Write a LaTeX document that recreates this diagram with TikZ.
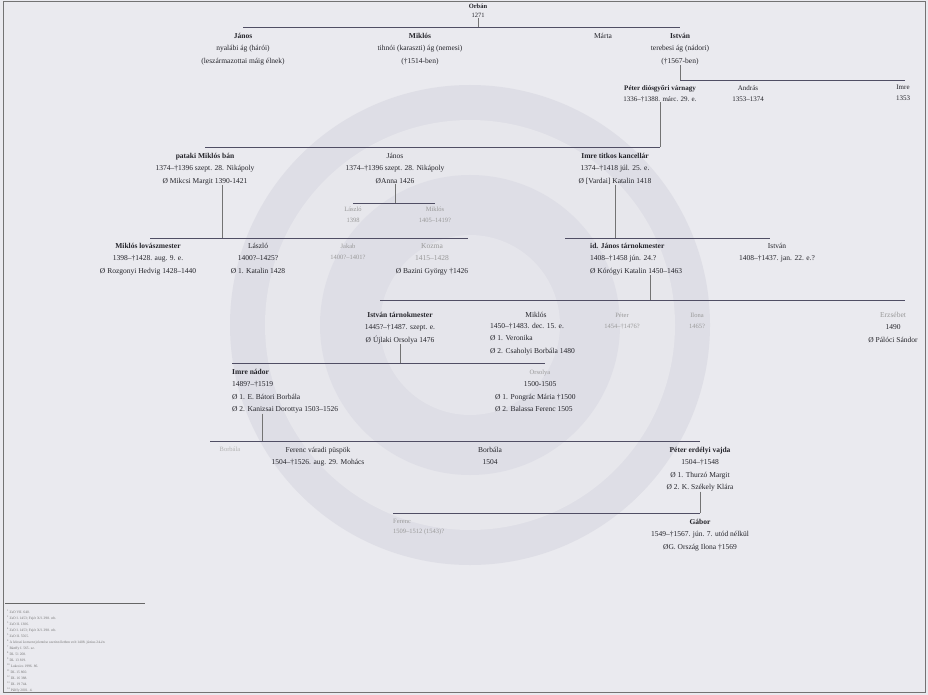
\documentclass[tikz,border=0pt]{standalone}
\usepackage{fontspec}
\setmainfont{Liberation Serif}
\definecolor{paper}{RGB}{234,234,239}
\definecolor{seal}{RGB}{222,222,230}
\definecolor{ink}{RGB}{36,36,42}
\definecolor{rule}{RGB}{80,78,100}
\tikzset{
  person/.style={anchor=north, inner sep=0pt, align=center, text=ink,
    font=\fontsize{7.5}{12.5}\selectfont},
  lperson/.style={person, anchor=north west, align=left},
  faint/.style={text=black!40, font=\fontsize{6.5}{10.5}\selectfont},
  bar/.style={draw=rule, line width=0.9pt},
  tick/.style={draw=black!55, line width=0.6pt}
}
\begin{document}
\begin{tikzpicture}[x=1pt,y=-1pt]
	\useasboundingbox (0,0) rectangle (928,695);
	\fill[paper] (0,0) rectangle (928,695);
	% seal in the background
	\fill[seal] (470,325) circle (240);
	\fill[paper!70!seal] (470,325) circle (205);
	\fill[seal] (470,325) circle (150);
	\fill[paper!60!seal] (470,325) circle (90);
	\draw[black!55, line width=1pt] (3,2) rectangle (925,692);

	% generation 0 and 1
	\node[person, font=\fontsize{6.5}{9}\selectfont] (orban) at (478,4) {\textbf{Orbán}\\1271};
	\node[person] (janos1) at (243,33) {\textbf{János}\\nyalábi ág (hárói)\\(leszármazottai máig élnek)};
	\node[person] (miklos1) at (420,33) {\textbf{Miklós}\\tihnói (karaszti) ág (nemesi)\\(†1514-ben)};
	\node[person] (marta1) at (603,33) {Márta};
	\node[person] (istvan1) at (680,33) {\textbf{István}\\terebesi ág (nádori)\\(†1567-ben)};
	\coordinate (b0l) at (243,27);
	\coordinate (b0r) at (680,27);
	\draw[tick] (orban.south) -- (orban.south |- b0l);
	\draw[bar] (b0l) -- (b0r);

	% generation 2
	\node[person, font=\fontsize{7}{11}\selectfont] (peter2) at (660,85) {\textbf{Péter diósgyőri várnagy}\\1336–†1388. márc. 29. e.};
	\node[person, font=\fontsize{7}{11}\selectfont] (andras2) at (748,85) {András\\1353–1374};
	\node[person, font=\fontsize{7}{11}\selectfont] (imre2) at (903,85) {Imre\\1353};
	\coordinate (b1l) at (680,80);
	\coordinate (b1r) at (905,80);
	\draw[tick] (istvan1.south) -- (b1l);
	\draw[bar] (b1l) -- (b1r);

	% generation 3
	\node[person] (miklosban) at (205,153) {\textbf{pataki Miklós bán}\\1374–†1396 szept. 28. Nikápoly\\Ø Mikcsi Margit 1390-1421};
	\node[person] (janos3) at (395,153) {János\\1374–†1396 szept. 28. Nikápoly\\ØAnna 1426};
	\node[person] (imre3) at (615,153) {\textbf{Imre titkos kancellár}\\1374–†1418 júl. 25. e.\\Ø [Vardai] Katalin 1418};
	\coordinate (b2l) at (205,147);
	\coordinate (b2r) at (660,147);
	\draw[tick] (peter2.south) -- (b2r);
	\draw[bar] (b2l) -- (b2r);

	\node[person, faint] (laszlo3) at (353,207) {László\\1398};
	\node[person, faint] (miklos3) at (435,207) {Miklós\\1405–1419?};
	\coordinate (b3l) at (353,203);
	\coordinate (b3r) at (435,203);
	\draw[tick] (janos3.south) -- (janos3.south |- b3l);
	\draw[bar] (b3l) -- (b3r);

	% generation 4
	\node[person] (miklos4) at (148,243) {\textbf{Miklós lovászmester}\\1398–†1428. aug. 9. e.\\Ø Rozgonyi Hedvig 1428–1440};
	\node[person] (laszlo4) at (258,243) {László\\1400?–1425?\\Ø 1. Katalin 1428};
	\node[person, faint] (jakab4) at (348,244) {Jakab\\1400?–1401?};
	\node[person] (kozma4) at (432,243) {\textcolor{black!40}{Kozma}\\\textcolor{black!40}{1415–1428}\\Ø Bazini György †1426};
	\coordinate (b4l) at (150,238);
	\coordinate (b4r) at (468,238);
	\draw[tick] (miklosban.south -| 222,0) -- (b4l -| 222,0);
	\draw[bar] (b4l) -- (b4r);

	\node[lperson] (janos4) at (590,243) {\textbf{id. János tárnokmester}\\1408–†1458 jún. 24.?\\Ø Kórógyi Katalin 1450–1463};
	\node[person] (istvan4) at (777,243) {István\\1408–†1437. jan. 22. e.?};
	\coordinate (b5l) at (565,238);
	\coordinate (b5r) at (770,238);
	\draw[tick] (imre3.south) -- (imre3.south |- b5l);
	\draw[bar] (b5l) -- (b5r);

	% generation 5
	\node[person] (istvan5) at (400,312) {\textbf{István tárnokmester}\\1445?–†1487. szept. e.\\Ø Újlaki Orsolya 1476};
	\node[person] (miklos5) at (536,312) {Miklós};
	\node[lperson] (miklos5b) at (490,323) {1450–†1483. dec. 15. e.\\Ø 1. Veronika\\Ø 2. Csaholyi Borbála 1480};
	\node[person, faint] (peter5) at (622,313) {Péter\\1454–†1476?};
	\node[person, faint] (ilona5) at (697,313) {Ilona\\1465?};
	\node[person] (erzsebet5) at (893,312) {\textcolor{black!40}{Erzsébet}\\1490\\Ø Pálóci Sándor};
	\coordinate (b6l) at (380,300);
	\coordinate (b6r) at (905,300);
	\draw[tick] (janos4.south -| 650,0) -- (b6l -| 650,0);
	\draw[bar] (b6l) -- (b6r);

	% generation 6
	\node[lperson] (imre6) at (232,369) {\textbf{Imre nádor}\\1489?–†1519\\Ø 1. E. Bátori Borbála\\Ø 2. Kanizsai Dorottya 1503–1526};
	\node[person, faint] (orsolya6) at (540,370) {Orsolya};
	\node[person] (orsolya6b) at (540,381) {1500-1505};
	\node[lperson] (orsolya6c) at (495,394) {Ø 1. Pongrác Mária †1500\\Ø 2. Balassa Ferenc 1505};
	\coordinate (b7l) at (232,363);
	\coordinate (b7r) at (545,363);
	\draw[tick] (istvan5.south) -- (istvan5.south |- b7l);
	\draw[bar] (b7l) -- (b7r);

	% generation 7
	\node[person, faint, text=black!30] (borbala7a) at (230,447) {Borbála};
	\node[person] (ferenc7) at (318,447) {Ferenc váradi püspök\\1504–†1526. aug. 29. Mohács};
	\node[person] (borbala7b) at (490,447) {Borbála\\1504};
	\node[person] (peter7) at (700,447) {\textbf{Péter erdélyi vajda}\\1504–†1548\\Ø 1. Thurzó Margit\\Ø 2. K. Székely Klára};
	\coordinate (b8l) at (210,441);
	\coordinate (b8r) at (700,441);
	\draw[tick] (imre6.south -| 262,0) -- (b8l -| 262,0);
	\draw[bar] (b8l) -- (b8r);

	% generation 8
	\node[lperson, faint] (ferenc8) at (393,519) {Ferenc\\1509–1512 (1543)?};
	\node[person] (gabor8) at (700,519) {\textbf{Gábor}\\1549–†1567. jún. 7. utód nélkül\\ØG. Ország Ilona †1569};
	\coordinate (b9l) at (393,513);
	\coordinate (b9r) at (700,513);
	\draw[tick] (peter7.south) -- (b9r);
	\draw[bar] (b9l) -- (b9r);

	% footnotes
	\draw[black!60] (5,603) -- (145,603);
	\foreach \t [count=\i] in {ZsO VII. 640.,
			ZsO I. 1453; Fejér X/I. 298. stb.,
			ZsO II. 1306.,
			ZsO I. 1453; Fejér X/I. 298. stb.,
			ZsO II. 5565.,
			A leleszi konvent jelentése szerint életben volt 1408. június 24-én, Bánffy I. 565. sz.,
			DL 51 208.,
			DL 13 819.,
			Lukcsics 1996. 86.,
			DL 15 860.,
			DL 16 388.,
			DL 19 744.,
			Pálffy 2001. 4.}
		\node[anchor=west, inner sep=0pt, text=black!55, font=\fontsize{3.6}{4}\selectfont] (fn\i) at (7,606+6*\i) {\textsuperscript{\i}\,\t};
\end{tikzpicture}
\end{document}
